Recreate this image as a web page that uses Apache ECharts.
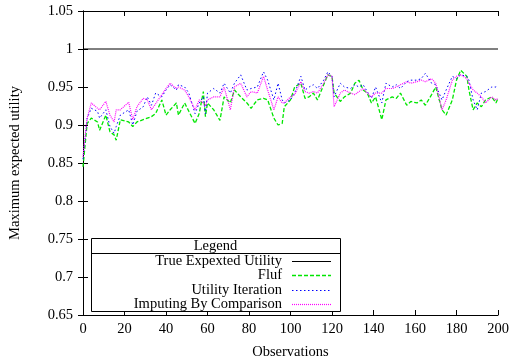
<!DOCTYPE html>
<html>
<head>
<meta charset="utf-8">
<script src="https://cdn.jsdelivr.net/npm/echarts@6/dist/echarts.min.js"></script>
<style>html,body{margin:0;padding:0;background:#fff}#c{width:510px;height:360px}</style>
</head>
<body>
<div id="c"></div>
<script>
const observations = [0,2,4,7,8,11,13,15,16,18,22,24,26,29,31,33,35,38,40,42,45,46,49,51,54,56,58,59,60,63,66,68,71,73,76,79,81,84,87,89,92,94,96,97,100,102,105,107,109,111,113,116,118,120,121,124,126,129,131,133,135,137,139,141,144,146,149,151,153,156,158,161,163,165,168,170,173,175,178,180,182,185,186,188,190,192,194,197,199,200];
const fluf = [0.845,0.902,0.909,0.904,0.893,0.913,0.891,0.887,0.880,0.907,0.904,0.898,0.904,0.907,0.909,0.911,0.915,0.933,0.913,0.920,0.929,0.913,0.929,0.918,0.902,0.915,0.944,0.911,0.929,0.920,0.906,0.937,0.929,0.946,0.937,0.929,0.922,0.933,0.935,0.933,0.909,0.900,0.902,0.924,0.933,0.950,0.955,0.935,0.937,0.942,0.933,0.953,0.966,0.964,0.942,0.931,0.937,0.942,0.955,0.959,0.946,0.942,0.929,0.937,0.907,0.933,0.937,0.935,0.942,0.926,0.931,0.929,0.933,0.926,0.940,0.950,0.920,0.913,0.933,0.959,0.972,0.964,0.946,0.920,0.929,0.924,0.933,0.937,0.929,0.935];
const utilityIteration = [0.855,0.909,0.922,0.918,0.909,0.920,0.898,0.889,0.898,0.913,0.920,0.900,0.918,0.924,0.937,0.926,0.942,0.937,0.946,0.953,0.946,0.953,0.950,0.942,0.915,0.929,0.937,0.915,0.942,0.948,0.942,0.955,0.942,0.955,0.966,0.946,0.948,0.950,0.970,0.959,0.933,0.955,0.933,0.929,0.933,0.942,0.964,0.946,0.950,0.953,0.948,0.959,0.970,0.964,0.937,0.955,0.950,0.948,0.953,0.950,0.953,0.944,0.935,0.950,0.929,0.955,0.950,0.953,0.948,0.957,0.959,0.959,0.961,0.968,0.955,0.953,0.933,0.946,0.964,0.961,0.966,0.964,0.959,0.933,0.920,0.942,0.944,0.950,0.950,0.952];
const imputing = [0.858,0.909,0.929,0.922,0.920,0.931,0.913,0.904,0.920,0.920,0.930,0.907,0.924,0.935,0.933,0.920,0.928,0.940,0.948,0.955,0.948,0.950,0.946,0.937,0.920,0.933,0.929,0.925,0.933,0.937,0.937,0.950,0.920,0.950,0.955,0.937,0.944,0.942,0.964,0.946,0.920,0.937,0.929,0.929,0.937,0.940,0.957,0.944,0.942,0.944,0.942,0.955,0.966,0.964,0.924,0.942,0.946,0.942,0.940,0.944,0.948,0.942,0.937,0.942,0.942,0.948,0.948,0.950,0.953,0.957,0.955,0.957,0.959,0.957,0.961,0.955,0.920,0.933,0.959,0.964,0.966,0.961,0.955,0.946,0.942,0.937,0.929,0.937,0.933,0.935];
const trueUtility = 1;
const xTicks = [0,20,40,60,80,100,120,140,160,180,200];
const yTicks = ['0.65','0.7','0.75','0.8','0.85','0.9','0.95','1','1.05'];
const seriesNames = ['True Expexted Utility','Fluf','Utility Iteration','Imputing By Comparison'];

const FONT = 'Liberation Serif';
const FS = 14.5;
const pair = arr => observations.map((x, i) => [x, arr[i]]);

const chart = echarts.init(document.getElementById('c'), null, {renderer: 'canvas'});
const axisCommon = {
  axisLine: {show: true, lineStyle: {color: '#000', width: 1}},
  axisTick: {show: true, inside: true, length: 5, lineStyle: {color: '#000'}},
  splitLine: {show: false}
};
const GREEN = '#00e600', BLUE = '#0000ff', PINK = '#ff00ff';
const legendX0 = 91, legendX1 = 340, legendY0 = 238, legendY1 = 311;
const rowYs = [261, 275, 290, 304];
const sampleStyles = [
  {stroke: '#000', lineWidth: 1},
  {stroke: GREEN, lineWidth: 1.3, lineDash: [4, 2]},
  {stroke: BLUE, lineWidth: 1, lineDash: [1.5, 2.5]},
  {stroke: PINK, lineWidth: 1.2, lineDash: [1, 1]}
];
const graphics = [
  {type: 'rect', shape: {x: legendX0 + 0.5, y: legendY0 + 0.5, width: legendX1 - legendX0, height: legendY1 - legendY0}, style: {fill: '#fff', stroke: '#000', lineWidth: 1}, z: 100},
  {type: 'line', shape: {x1: legendX0, y1: 253.5, x2: legendX1, y2: 253.5}, style: {stroke: '#000', lineWidth: 1}, z: 101},
  {type: 'text', x: (legendX0 + legendX1) / 2, y: 246, style: {text: 'Legend', font: FS + 'px ' + FONT, fill: '#000', align: 'center', verticalAlign: 'middle'}, z: 101}
];
seriesNames.forEach((n, i) => {
  graphics.push({type: 'text', x: 282, y: rowYs[i], style: {text: n, font: FS + 'px ' + FONT, fill: '#000', align: 'right', verticalAlign: 'middle'}, z: 101});
  graphics.push({type: 'line', shape: {x1: 292, y1: rowYs[i] + 0.5, x2: 331, y2: rowYs[i] + 0.5}, style: Object.assign({}, sampleStyles[i]), z: 102});
});

chart.setOption({
  animation: false,
  backgroundColor: '#fff',
  textStyle: {fontFamily: FONT},
  grid: {left: 83, right: 12, top: 11, bottom: 45, containLabel: false, outerBoundsMode: 'none'},
  xAxis: [
    Object.assign({}, axisCommon, {
      type: 'value', min: 0, max: 200, interval: 20, position: 'bottom',
      name: 'Observations', nameLocation: 'middle', nameGap: 30,
      nameTextStyle: {fontFamily: FONT, fontSize: FS, color: '#000'},
      axisLabel: {fontFamily: FONT, fontSize: FS, color: '#000', margin: 7, formatter: v => xTicks.includes(v) ? String(v) : ''}
    }),
    Object.assign({}, axisCommon, {
      type: 'value', min: 0, max: 200, interval: 20, position: 'top', axisLabel: {show: false}
    })
  ],
  yAxis: [
    Object.assign({}, axisCommon, {
      type: 'value', min: 0.65, max: 1.05, interval: 0.05, position: 'left',
      name: 'Maximum expected utility', nameLocation: 'middle', nameGap: 60, nameRotate: 90,
      nameTextStyle: {fontFamily: FONT, fontSize: FS, color: '#000'},
      axisLabel: {fontFamily: FONT, fontSize: FS, color: '#000', margin: 10,
        formatter: v => { const i = Math.round((v - 0.65) / 0.05); return yTicks[i] || ''; }}
    }),
    Object.assign({}, axisCommon, {
      type: 'value', min: 0.65, max: 1.05, interval: 0.05, position: 'right', axisLabel: {show: false}
    })
  ],
  series: [
    {name: seriesNames[0], type: 'line', symbol: 'none', data: [[0, trueUtility], [200, trueUtility]], lineStyle: {color: '#000', width: 1}},
    {name: seriesNames[1], type: 'line', symbol: 'none', data: pair(fluf), lineStyle: {color: GREEN, width: 1.3, type: [4, 2]}},
    {name: seriesNames[2], type: 'line', symbol: 'none', data: pair(utilityIteration), lineStyle: {color: BLUE, width: 1, type: [1.5, 2.5]}},
    {name: seriesNames[3], type: 'line', symbol: 'none', data: pair(imputing), lineStyle: {color: PINK, width: 1.2, type: [1, 1]}}
  ],
  graphic: graphics
});
</script>
</body>
</html>
